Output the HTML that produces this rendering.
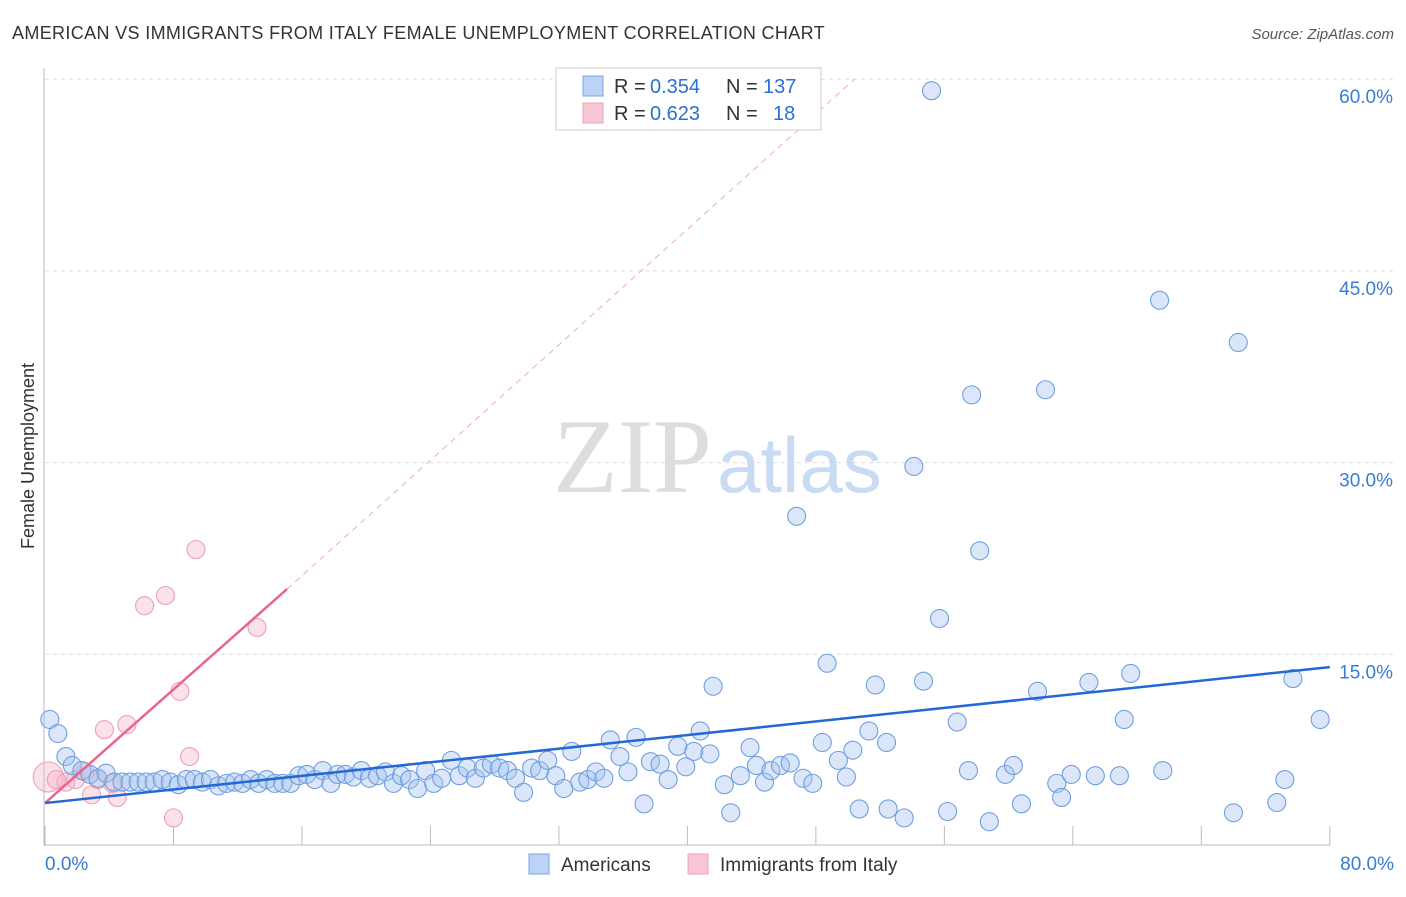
<!DOCTYPE html>
<html><head><meta charset="utf-8"><style>
body{margin:0;background:#fff;font-family:"Liberation Sans",sans-serif;}
</style></head><body>
<svg width="1406" height="892" xmlns="http://www.w3.org/2000/svg">
<text x="12" y="39" font-size="18" fill="#333" letter-spacing="0.35">AMERICAN VS IMMIGRANTS FROM ITALY FEMALE UNEMPLOYMENT CORRELATION CHART</text>
<text x="1394" y="39" font-size="15" fill="#555" font-style="italic" text-anchor="end">Source: ZipAtlas.com</text>
<text x="34" y="456" font-size="18" fill="#333" text-anchor="middle" transform="rotate(-90 34 456)">Female Unemployment</text>
<g id="grid"></g>
<text x="553" y="492" font-size="106" fill="#ddd" font-family="Liberation Serif">ZIP</text>
<text x="717" y="492" font-size="78" fill="#c9daf3">atlas</text>
<g id="lines"></g>
<g id="pts"></g>
<g>
<rect x="556" y="68" width="265" height="62" fill="#fff" stroke="#ccc"/>
<rect x="583" y="76" width="20" height="20" fill="#bcd3f5" stroke="#7aa6e0"/>
<rect x="583" y="103" width="20" height="20" fill="#f9c6d5" stroke="#eda0b8"/>
<text x="614" y="93" font-size="20" fill="#333">R =</text>
<text x="650" y="93" font-size="20" fill="#2b6fd6">0.354</text>
<text x="726" y="93" font-size="20" fill="#333">N =</text>
<text x="763" y="93" font-size="20" fill="#2b6fd6">137</text>
<text x="614" y="120" font-size="20" fill="#333">R =</text>
<text x="650" y="120" font-size="20" fill="#2b6fd6">0.623</text>
<text x="726" y="120" font-size="20" fill="#333">N =</text>
<text x="773" y="120" font-size="20" fill="#2b6fd6">18</text>
</g>
<g>
<rect x="529" y="854" width="20" height="20" fill="#bcd3f5" stroke="#7aa6e0"/>
<text x="561" y="871" font-size="19" fill="#333">Americans</text>
<rect x="688" y="854" width="20" height="20" fill="#f9c6d5" stroke="#eda0b8"/>
<text x="720" y="871" font-size="19" fill="#333">Immigrants from Italy</text>
</g>
</svg>
<script>
const yTicks=[15,30,45,60];
const yTickLabels=["15.0%","30.0%","45.0%","60.0%"];
const xTickLabels=["0.0%","80.0%"];
const blueX=[0.3,0.8,1.3,1.7,2.3,2.8,3.3,3.8,4.3,4.8,5.3,5.8,6.3,6.8,7.3,7.8,8.3,8.8,9.3,9.8,10.3,10.8,11.3,11.8,12.3,12.8,13.3,13.8,14.3,14.8,15.3,15.8,16.3,16.8,17.3,17.8,18.2,18.7,19.2,19.7,20.2,20.7,21.2,21.7,22.2,22.7,23.2,23.7,24.2,24.7,25.3,25.8,26.3,26.8,27.3,27.8,28.3,28.8,29.3,29.8,30.3,30.8,31.3,31.8,32.3,32.8,33.3,33.8,34.3,34.8,35.2,35.8,36.3,36.8,37.3,37.7,38.3,38.8,39.4,39.9,40.4,40.8,41.4,41.6,42.3,42.7,43.3,43.9,44.3,44.8,45.2,45.8,46.4,46.8,47.2,47.8,48.4,48.7,49.4,49.9,50.3,50.7,51.3,51.7,52.4,52.5,53.5,54.1,54.7,55.2,55.7,56.2,56.8,57.5,57.7,58.2,58.8,59.8,60.3,60.8,61.8,62.3,63.0,63.3,63.9,65.0,65.4,67.2,66.9,67.6,69.4,69.6,74.0,74.3,76.7,77.2,77.7,79.4];
const blueY=[9.9,8.8,7.0,6.3,5.9,5.6,5.3,5.7,5.0,5.0,5.0,5.0,5.0,5.0,5.2,5.0,4.8,5.2,5.2,5.0,5.2,4.7,4.9,5.0,4.9,5.2,4.9,5.2,4.9,4.9,4.9,5.5,5.6,5.2,5.9,4.9,5.6,5.6,5.4,5.9,5.3,5.5,5.8,4.9,5.5,5.2,4.5,5.9,4.9,5.3,6.7,5.5,6.1,5.3,6.1,6.4,6.1,5.9,5.3,4.2,6.1,5.9,6.7,5.5,4.5,7.4,5.0,5.2,5.8,5.3,8.3,7.0,5.8,8.5,3.3,6.6,6.4,5.2,7.8,6.2,7.4,9.0,7.2,12.5,4.8,2.6,5.5,7.7,6.3,5.0,5.9,6.3,6.5,25.8,5.3,4.9,8.1,14.3,6.7,5.4,7.5,2.9,9.0,12.6,8.1,2.9,2.2,29.7,12.9,59.1,17.8,2.7,9.7,5.9,35.3,23.1,1.9,5.6,6.3,3.3,12.1,35.7,4.9,3.8,5.6,12.8,5.5,9.9,5.5,13.5,42.7,5.9,2.6,39.4,3.4,5.2,13.1,9.9];
const pinkX=[0.2,1.3,1.9,2.9,3.3,3.7,4.5,5.1,6.2,7.5,8.0,8.4,9.0,9.4,13.2,4.2,2.5,0.7];
const pinkY=[5.4,5.0,5.2,4.0,5.2,9.1,3.8,9.5,18.8,19.6,2.2,12.1,7.0,23.2,17.1,4.9,5.8,5.2];
const pinkR=[15,9,9,9,9,9,9,9,9,9,9,9,9,9,9,9,9,9];
const blueTrend=[[0,3.36],[80,14.0]];
const pinkTrend=[[0,3.36],[15.07,20.1]];
const pinkExt=[[15.07,20.1],[50.4,60]];
const X=v=>45+v*16.06, Y=v=>846-v*12.78;
const NS="http://www.w3.org/2000/svg";
function mk(t,a,p){const e=document.createElementNS(NS,t);for(const k in a)e.setAttribute(k,a[k]);p.appendChild(e);return e;}
const g=document.getElementById('grid');
yTicks.forEach((t,i)=>{const l=mk('line',{x1:45,x2:1394,y1:Y(t),y2:Y(t),stroke:'#ddd','stroke-dasharray':'4,4'},g);

const tx=mk('text',{x:1393,y:Y(t)+24,'font-size':19,fill:'#3a7bd5','text-anchor':'end'},g);tx.textContent=yTickLabels[i];
});
let l=mk('line',{x1:44,x2:44,y1:68,y2:846,stroke:'#bbb'},g);
l=mk('line',{x1:44,x2:1330,y1:845,y2:845,stroke:'#bbb'},g);
for(let i=0;i<=10;i++){const t=mk('line',{x1:X(i*8),x2:X(i*8),y1:826,y2:845,stroke:'#bbb'},g);}
[[0,'start',45],[80,'end',1394]].forEach((d,i)=>{const tx=mk('text',{x:d[2],y:870,'font-size':19,fill:'#3a7bd5','text-anchor':d[1]},g);tx.textContent=xTickLabels[i];});
const p=document.getElementById('pts');
pinkX.forEach((v,i)=>{const c=mk('circle',{cx:X(v),cy:Y(pinkY[i]),r:pinkR[i],fill:'rgba(246,180,200,0.4)',stroke:'#eda0b8','stroke-width':1.1},p);});
blueX.forEach((v,i)=>{const c=mk('circle',{cx:X(v),cy:Y(blueY[i]),r:9,fill:'rgba(165,195,240,0.4)',stroke:'#6f9fe0','stroke-width':1.1},p);});
const ln=document.getElementById('lines');
l=mk('line',{x1:X(pinkExt[0][0]),y1:Y(pinkExt[0][1]),x2:X(pinkExt[1][0]),y2:Y(pinkExt[1][1]),stroke:'#f0a8bd','stroke-dasharray':'6,5','stroke-width':1},ln);
const lp=document.getElementById('pts');
l=mk('line',{x1:X(pinkTrend[0][0]),y1:Y(pinkTrend[0][1]),x2:X(pinkTrend[1][0]),y2:Y(pinkTrend[1][1]),stroke:'#e8668e','stroke-width':2.5},lp);
l=mk('line',{x1:X(blueTrend[0][0]),y1:Y(blueTrend[0][1]),x2:X(blueTrend[1][0]),y2:Y(blueTrend[1][1]),stroke:'#2368d4','stroke-width':2.5},lp);
</script>
</body></html>
